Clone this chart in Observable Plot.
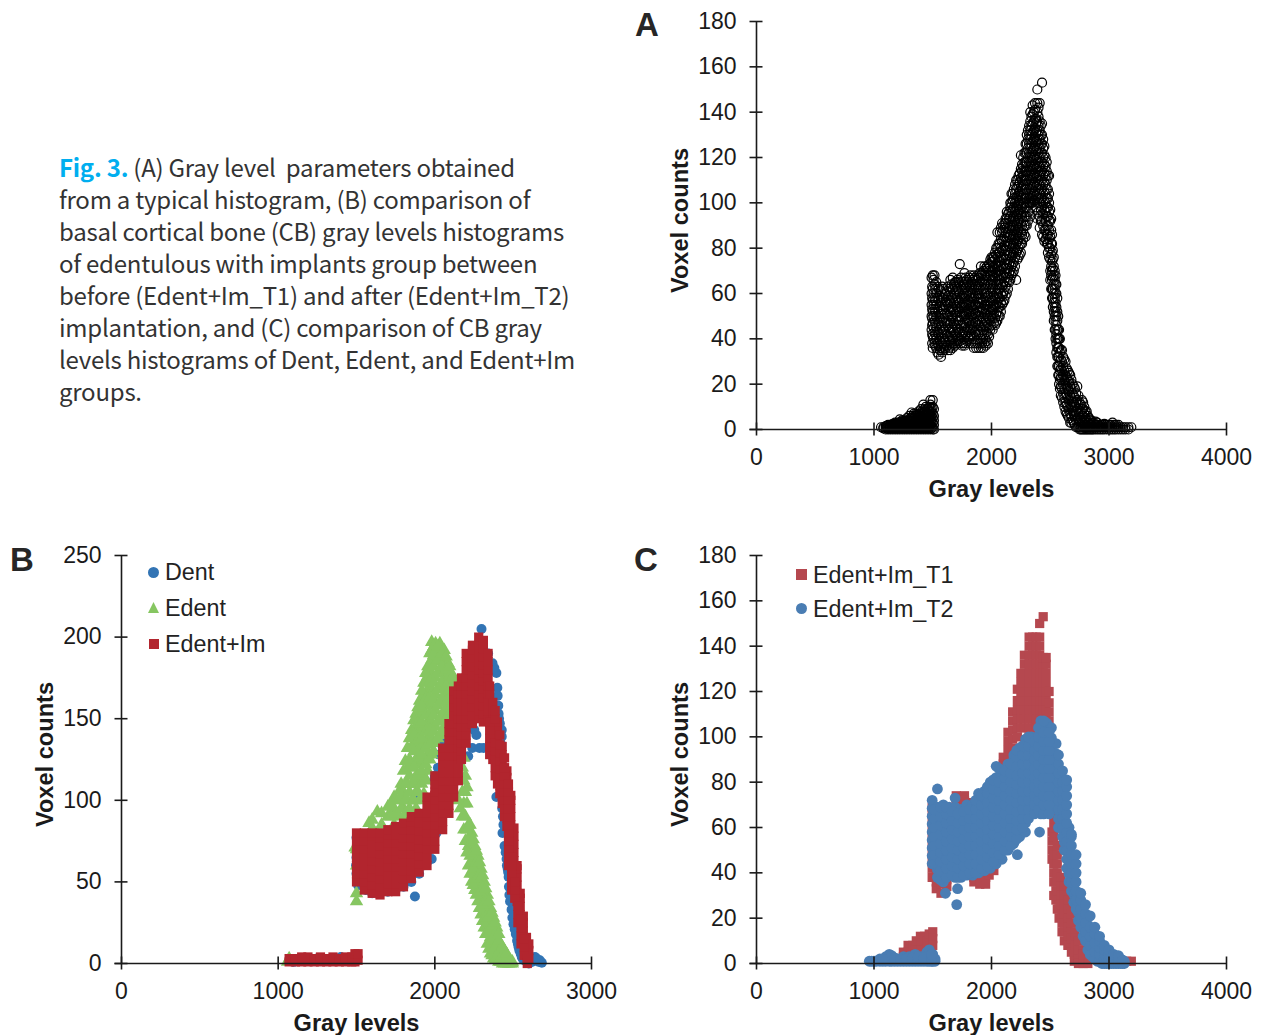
<!DOCTYPE html>
<html><head><meta charset="utf-8">
<script src="https://cdn.jsdelivr.net/npm/d3@7"></script>
<script src="https://cdn.jsdelivr.net/npm/@observablehq/plot@0.6"></script>
<style>
html,body{margin:0;padding:0;background:#fff}
#page{position:relative;width:1262px;height:1035px;overflow:hidden;font-family:"Liberation Sans",Arial,sans-serif;color:#1a1a1a}
#page svg{position:absolute;overflow:visible}
#caption{position:absolute;left:59px;top:151px;font:24px/32px "Noto Sans CJK KR","Noto Sans",sans-serif;color:#333;white-space:pre;letter-spacing:-.24px}
#caption b{color:#00aeef;font-weight:700}
.letter{position:absolute;font-weight:700;font-size:33px;line-height:33px;color:#262626}
.lg{position:absolute;font-size:23.3px;line-height:26px;white-space:pre;color:#222}
.mk{position:absolute;width:11px;height:11px}
</style></head><body><div id="page">
<div id="caption"><b>Fig. 3.</b> (A) Gray level  parameters obtained
from a typical histogram, (B) comparison of
basal cortical bone (CB) gray levels histograms
of edentulous with implants group between
before (Edent+Im_T1) and after (Edent+Im_T2)
implantation, and (C) comparison of CB gray
levels histograms of Dent, Edent, and Edent+Im
groups.</div>
<div class="letter" style="left:635px;top:8px">A</div>
<div class="letter" style="left:10px;top:543px">B</div>
<div class="letter" style="left:634px;top:543px">C</div>
<div class="mk" style="left:148px;top:567px;border-radius:50%;background:#3274b4"></div><div class="lg" style="left:165px;top:559px">Dent</div>
<div class="mk" style="left:148px;top:602px;background:#86c661;clip-path:polygon(50% 0,100% 100%,0 100%)"></div><div class="lg" style="left:165px;top:595px">Edent</div>
<div class="mk" style="left:149px;top:639px;width:10px;height:10px;background:#b2252e"></div><div class="lg" style="left:165px;top:631px">Edent+Im</div>
<div class="mk" style="left:796px;top:569px;background:#b5484f"></div><div class="lg" style="left:813px;top:562px">Edent+Im_T1</div>
<div class="mk" style="left:796px;top:603px;border-radius:50%;background:#4a7db3"></div><div class="lg" style="left:813px;top:596px">Edent+Im_T2</div>
</div>
<script>
const grayTicksAC=[0,1000,2000,3000,4000], grayTicksB=[0,1000,2000,3000];
const countTicksAC=[0,20,40,60,80,100,120,140,160,180], countTicksB=[0,50,100,150,200,250];
const xTitle="Gray levels", yTitle="Voxel counts";
const colors={dent:"#3274b4",edent:"#86c661",edentIm:"#b2252e",t1:"#b5484f",t2:"#4a7db3"};

// Each row: gray level, then the voxel counts read at that gray level
const typicalA=[
[1060,1],[1080,.5,1],[1100,0,1,1.5],[1120,0,1,2],[1140,0,1,2],[1160,0,1,2.5],[1180,0,1,2,3],[1200,0,1,2,3],[1220,0,1,3,4.5],[1240,0,1,2,3,4],[1260,0,1,2,3,4],[1280,0,1,3,5],[1300,0,1,2,4,6],[1320,0,2,3,5,7.5],[1340,0,1,3,5,7],[1360,0,2,4,6,7],[1380,0,1,3,5,8],[1400,0,2,4,6,9],[1420,0,1,3,5,7,11],[1440,0,2,4,6,8,10],[1460,0,1,3,5,7,9],[1480,0,2,4,6,8,11,13],[1500,0,1,3,5,7,10,13],[1510,0,2,4,6,9],
[1490,44,50,55,60,67],[1500,36,41,47,52,57,62,68],[1515,38,43,48,53,58,64,68],[1530,36,40,45,50,55,60,65],[1550,33,37,42,47,52,57,62],[1570,32,36,41,46,51,56,61],[1590,35,40,44,49,53,58,62],[1610,36,39,45,48,54,57,60],[1630,35,41,46,50,55,59,63],[1650,35,38,43,47,52,56,61,66],[1670,36,40,44,49,53,58,62,67],[1690,37,42,46,51,55,59,63,65],[1710,38,41,45,50,54,58,62,66],[1730,39,43,48,52,56,60,64,73],[1750,37,42,46,51,55,59,62,65],[1770,37,40,45,50,54,58,62,69],[1790,39,44,48,52,56,60,64,66],[1810,40,43,47,51,55,59,63,67],[1830,38,42,46,50,54,58,62,65],[1850,36,41,45,49,53,58,62,68],[1870,36,42,47,51,55,59,63,66],[1890,36,42,46,50,54,58,62,67],[1910,36,40,45,50,54,58,63,68,72],[1930,36,40,44,49,53,57,62,66,70],[1950,37,40,45,48,53,58,62,66,71],[1970,38,42,46,50,55,59,64,68,71],[1990,44,48,52,56,60,64,68,72,75],[2010,44,49,53,57,62,66,70,74,76],[2030,46,49,54,58,62,67,71,75,78],[2050,48,52,56,60,64,68,72,76,80,87],[2070,50,54,58,62,66,70,74,78,82,87],[2090,55,59,63,67,71,75,79,83,87,91],[2110,57,61,65,69,73,77,81,85,89,91],[2130,60,65,69,73,77,81,85,89,93,96],[2150,65,69,73,77,81,85,89,93,96],[2170,68,72,76,80,84,88,92,96,100,104],[2190,70,74,78,82,86,90,94,98,102,106],[2210,66,78,82,86,90,94,98,102,106,110],[2230,76,80,84,88,92,96,100,104,108,112],[2250,78,82,87,91,95,99,103,107,111,115,121],[2270,84,88,92,96,100,104,108,112,116,120],[2290,85,90,94,98,102,106,110,114,118,122,126],[2310,92,96,100,104,108,112,116,120,124,128,132],[2330,94,100,104,108,112,116,120,124,128,132,136,140],[2350,100,103,107,111,115,119,123,127,131,135,139,143],[2370,101,105,109,113,117,121,125,129,133,137,141,144],[2390,93,100,104,108,112,116,120,124,128,132,136,140,144,150],[2410,89,94,100,104,108,112,116,120,124,128,132,136,144],[2430,86,92,98,102,106,110,114,118,122,126,130,135,153],[2450,83,88,93,97,101,105,109,113,117,121,125],[2470,82,86,90,94,98,102,106,110,114,118],[2490,76,80,84,88,92,96,100,104,112],
[2500,66,70,75,80,85,92,97],[2515,58,62,66,70,74,78,82,86],[2530,48,52,56,60,64,68,72,76],[2545,40,44,48,52,56,60,64,68],[2560,28,32,36,40,44,48,52,58],[2575,20,24,28,32,36,40,44],[2590,15,19,23,27,31,35],[2610,12,16,20,24,28,32],[2630,8,12,16,20,24,30],[2650,6,10,14,18,22,26],[2670,3,7,11,15,19,24],[2690,4,8,12,16,20],[2710,2,6,10,14,18],[2730,1,5,9,13,19],[2750,0,4,8,12],[2770,0,3,6,9,13],[2790,0,2,4,7,10],[2810,0,2,4,8],[2830,0,1,3,5],[2850,0,2,4],[2870,0,1,3],[2900,0,1,3],[2930,0,1,2],[2960,0,1,2.5],[3000,0,1,2],[3030,0,1,3],[3060,0,1,2],[3100,0,1],[3140,0,1],[3190,1]];
const typicalAExtra=[
[1110,.5,1.5],[1130,.5,1.5],[1150,.5,1.5],[1170,.5,1.5,2],[1190,.5,1.5,2.5],[1210,.5,1.5,2.5],[1230,.5,1.5,2.5,3.5],[1250,.5,1.5,2.5,3.5],[1270,.5,1.5,2.5,3.5],[1290,.5,1.5,2.5,4],[1310,.5,1.5,2.5,3.5,5],[1330,.5,1.5,2.5,4,6],[1350,.5,1.5,2.5,4,6],[1370,.5,1.5,3,5,6.5],[1390,.5,1.5,3,4.5,6,7],[1410,.5,1.5,2.5,4,5,7,8],[1430,.5,1.5,3,4.5,6,8,9],[1450,.5,1.5,3,4.5,6,7.5,9],[1470,.5,1.5,3,4.5,6,8,10],[1490,.5,1.5,3,4.5,6,8,9.5],
[1495,38,42,46,49,53,58,63],[1507,40,45,50,55,60,66],[1522,37,42,47,52,57,62],[1540,34,38,43,48,53,58,63],[1560,35,39,44,49,54,59],[1580,34,38,43,48,53,58,63],[1600,37,42,47,51,55,60],[1620,37,42,47,51,56,61],[1640,36,39,44,48,53,57,62],[1660,37,41,45,50,54,59,64],[1680,38,43,47,52,56,60,64],[1700,39,43,48,52,57,61,65],[1720,40,44,48,53,57,61,65],[1740,38,41,46,50,54,58,63,67],[1760,38,43,47,52,56,60,64],[1780,38,42,47,51,55,59,63,67],[1800,41,45,49,53,57,61,65],[1820,41,44,48,52,56,60,64,68],[1840,40,44,47,51,55,60,64,66],[1860,38,43,47,51,55,60,64,67],[1880,38,44,48,52,56,60,64,68],[1900,38,43,48,52,56,60,65,69],[1920,38,42,47,52,56,60,65,69],[1940,38,42,46,51,55,60,64,68,72],[1960,39,43,47,51,55,60,64,68,72],[1980,41,45,49,53,57,62,66,70,73],[2000,46,50,54,58,62,66,70,74,76],[2020,47,51,55,59,64,68,72,76],[2040,47,51,55,60,64,69,73,77,80],[2060,50,54,58,62,66,70,74,78,82],[2080,52,56,60,64,68,72,76,80,84,89],[2100,56,60,64,68,72,76,80,84,88,90],[2120,59,63,67,71,75,79,83,87,91,93],[2140,62,67,71,75,79,83,87,91,95],[2160,66,70,74,78,82,86,90,94,98,100],[2180,69,73,77,81,85,89,93,97,101,104],[2200,72,76,80,84,88,92,96,100,104,108],[2220,75,79,83,87,91,95,99,103,107,110],[2240,77,81,85,89,93,97,101,105,109,113],[2260,82,86,90,94,98,102,106,110,114,117],[2280,86,90,94,98,102,106,110,114,118,122],[2300,90,94,98,102,106,110,114,118,122,126,130],[2320,96,100,102,106,110,114,118,122,126,130,134],[2340,100,102,106,110,114,118,122,126,130,134,138],[2360,101,104,108,112,116,120,124,128,132,136,140],[2380,98,103,107,111,115,119,123,127,131,135,137],[2400,96,102,106,110,114,118,122,126,130,134,138,142],[2420,92,97,102,106,110,114,118,122,126,130,134],[2440,85,90,95,100,104,108,112,116,120,124,128],[2460,84,88,92,96,100,104,108,112,116,120],[2480,78,82,86,90,94,98,102,106,112],
[2508,62,68,72,77,82,88,93],[2522,54,58,62,67,71,75,79],[2538,44,50,54,58,62,66,70],[2552,34,38,42,46,50,54,60,64],[2568,24,28,32,36,40,44,50],[2582,18,22,26,30,34,40],[2600,14,18,22,26,30,35],[2620,10,14,18,22,26,31],[2640,7,11,15,19,23,27],[2660,5,9,13,17,21,25],[2680,3,6,10,14,18,22],[2700,3,7,11,15,19],[2720,1,4,8,12,16],[2740,1,3,7,11,15],[2760,0,2,5,8,11],[2780,0,1,3,6,9,12],[2800,0,1,3,5,8],[2820,0,1,3,6],[2840,0,1,2,4],[2860,0,1,3],[2885,0,1,2,3.5],[2915,0,1,2],[2945,0,1,2],[2980,0,1,2],[3015,0,1,2],[3045,0,1,2],[3080,0,1,2],[3120,0,1],[3165,0,1]];

const dentB=[[1100,1],[1180,3],[1250,3],[1350,3],[1400,4],[1450,2],[1500,3,55,65,77],[1560,45,60],[1700,44,70],[1800,47,75],[1873,41],[1900,55],[1903,102],[1950,62],[1980,64],[1994,112],[2000,90],[2020,120],[2045,134],[2058,138],[2123,103],[2200,149],[2213,127],[2239,132],[2252,143],[2265,140],[2285,132],[2298,205],[2311,132],[2330,188],[2368,184],[2393,178,102],[2399,169],[2401,164],[2407,153],[2427,143,139],[2432,80],[2445,72],[2458,64],[2465,58],[2471,53],[2473,47],[2476,42],[2490,33],[2502,24],[2510,21],[2517,18],[2525,14],[2535,10],[2548,6],[2561,3],[2600,0],[2639,4],[2664,1],[2683,.5],
[1497,60,70],[1510,48,52],[1600,43],[1650,43],[1750,45],[1850,50],[1925,60],[1970,70],[2010,80],[2030,128,100],[2000,115],[2060,130],[2080,115],[2100,105],[2350,180],[2340,190],[2380,181],[2410,150],[2415,147],[2405,158],[2420,135],[2430,95],[2435,90],[2438,85],[2452,68],[2460,60],[2468,56],[2480,38],[2495,28],[2530,12],[2540,8],[2555,4],[2570,2],[2590,1],[2620,1],[2650,3],[2670,2]];

const edentB=[[1060,1],[1070,3],[1491,71],[1500,38,43,60,70],[1580,60,75,86],[1633,65,80,93],[1700,60,78,90,96],[1740,75,85,95,102],[1775,80,90,100,106],[1800,85,95,105,118],[1825,90,100,110,120,132],[1852,90,100,110,122,133,143],[1880,95,105,115,125,135,145,153],[1903,100,112,122,132,142,152,161],[1930,104,115,125,135,145,155,165,172],[1955,118,128,138,148,158,168,176,182],[1980,128,138,148,158,168,178,186,192,197],[2005,135,145,155,165,175,185,192,196],[2032,140,150,160,170,180,188,196],[2060,145,155,165,175,185,192],[2084,150,160,170,178,184],[2105,155,165,172,178],[2123,160,167,173],[2150,100,125],[2175,90,105,120,135],[2195,75,90,105,115],[2215,60,72,85],[2235,50,62,72,80],[2255,45,55,65,72],[2275,38,48,58,66],[2295,30,40,50,58],[2315,22,32,42,50],[2335,12,22,32,42],[2355,6,16,26,34],[2375,3,12,20,28],[2395,2,9,16,22],[2420,1,6,12],[2445,0,4,8],[2470,0,3],[2495,0,1]];
const edentBExtra=[[1540,78],[1600,83,88],[1660,85,92],[1720,90,97],[1755,92,100],[1785,95,103,110],[1812,92,100,110,124],[1838,95,105,115,125,138],[1866,100,110,120,130,140,149],[1892,105,115,127,137,147,157],[1916,110,118,128,138,148,158,167],[1942,112,122,132,142,152,162,172,178],[1968,125,134,143,153,163,173,183,190],[1992,130,142,152,162,172,182,189,194],[2018,138,148,158,168,178,186,194],[2045,142,152,162,172,182,190],[2072,150,160,170,180,188],[2095,158,168,176,182],[2114,160,170,176],[2135,150,162],[2162,95,112,128],[2185,82,98,112,126],[2205,68,82,98,108],[2225,55,66,78,85],[2245,48,58,68,76],[2265,42,52,62,69],[2285,34,44,54,62],[2305,26,36,46,54],[2325,18,28,38,46],[2345,9,19,29,38],[2365,5,14,23,31],[2385,2,10,18,25],[2408,1,7,14,18],[2432,0,5,10],[2458,0,3,6],[2482,0,2]];

const edentImB=[[1070,1,3],[1110,1,3],[1150,1,4],[1190,1,4],[1230,1,3],[1270,1,4],[1310,1,3],[1350,1,4],[1390,1,3],[1430,1,4],[1470,1,4],[1490,1,4,6],[1510,2,6],
[1500,50,55,60,65,70,75,80],[1550,45,50,55,60,65,70,75,80],[1600,43,48,53,58,63,68,73,78,80],[1650,42,47,52,57,62,67,72,77,80],[1700,44,49,54,59,64,69,74,79,82],[1750,44,49,54,59,64,69,74,79,84],[1800,47,52,57,62,67,72,77,82,86],[1850,52,57,62,67,72,77,82,87,90],[1900,56,61,66,71,76,81,86,91,92],[1950,60,65,70,75,80,85,90,92,97,102],[2000,70,75,80,85,90,95,100,103,105,110,115],[2050,82,87,92,97,102,107,112,117,122,127,132],[2090,92,97,102,107,112,117,122,127,132,137,142,147],[2120,102,107,112,117,122,127,132,137,142,147,152,157,162,167],[2150,112,117,122,127,132,137,142,147,150,155,160,165,170],[2170,125,130,135,140,145,150,155,160,165,170,175],[2200,135,140,145,150,155,160,165,170,175,180,185,190],[2240,147,152,157,162,167,172,177,182,187,192,195],[2280,150,155,160,165,170,175,180,185,190,195,200],[2310,148,153,158,163,168,173,178,183,188,193,198],[2340,150,155,160,165,170,175,180,185,190],[2370,125,130,135,140,145,150,155,160],[2400,110,115,120,125,130,135,140,145,148],[2430,98,103,108,113,118,123,128,133],[2460,84,89,94,99,104,109,114,118],[2485,70,75,80,85,90,95,100,103],[2505,53,58,63,68,73,78,83],[2525,38,43,48,53,58,60],[2545,30,35,40,43],[2565,20,25,29],[2585,5,10,16],[2600,3,8,12],
[2350,128,133,138,143,148,165,170],[2385,115,120,125,130,135,150,155],[2415,104,109,114,119,124,129,134,140],[2445,90,95,100,105,110,115,120,126],[2470,60,65,70,75,80,85,90,95,100,105,110],[2490,45,50,55,60,65],[2510,40,45,50],[2530,25,30,35],[2550,12,17,22,27],[2570,5,10,15],[2590,0,3]];

const t1C=[[1150,2],[1250,5,3],[1290,8,5],[1330,8],[1350,7,4],[1360,10],[1395,12],[1400,9,6],[1430,12],[1450,10,7],[1470,13],[1500,14,11,8],
[1495,38,42,46,50,54,58,62,66,69],[1530,33,36,40,68],[1570,31,35],[1620,34,37,40],[1700,72,74,70],[1740,73],[1770,74,70,72],[1800,71],[1850,36,38],[1900,35,38],[1950,35,38,41],[1980,39,42],[2020,41,44,47],[2060,46,49,52],[2100,50,53,84,88,91],[2140,90,94,98,102],[2180,95,99,103,107,111],[2220,100,104,108,112,116,121],[2250,104,108,112,116,120,124,128],[2280,104,108,112,116,120,124,128,132,136],[2320,100,104,108,112,116,120,124,128,132,136,140,144],[2350,100,104,108,112,116,120,124,128,132,136,140,144],[2380,100,104,108,112,116,120,124,128,132,136,140,144],[2410,100,104,108,112,116,120,124,128,132,136,140,144,150],[2440,100,104,108,112,116,120,124,128,132,135,153],[2465,100,104,108,112,116,120,124,128,132,135],[2490,95,99,103,107,111,115,120],
[2515,58,54,50,46],[2530,48,44,40,36],[2548,36,32,28],[2575,28,24,20],[2600,22,18,14],[2620,18,14,10],[2650,12,8],[2680,8,5],[2705,4,1],[2740,2,0],[2780,1,0],[2820,0],[3150,1],[3190,1],
[2530,56,60,64,30],[2560,52,48,44,40,36,32,24],[2590,38,34,30,26],[2620,34,30,26,22],[2650,28,24,20,16],[2680,22,18,14,11],[2710,14,11,8],[2740,10,6],[2780,6,4],[2830,2]];

const t2C=[[960,1],[1000,1],[1050,1,2],[1100,1,3],[1130,1,4],[1150,1,3.5],[1200,1,2],[1250,1,3],[1300,1,3],[1350,1,4],[1400,1,3],[1450,1,3,5],[1470,1,3,6],[1500,1,3,4],[1520,1,2],
[980,1],[1020,1],[1075,1,2],[1175,1,2.5],[1225,1,2],[1275,1,2],[1325,1,2.5],[1375,1,3],[1425,1,2.5],[1490,1,2,4],
[1495,44,47.5,51,54.5,58,61.5,65,68.5,72],[1540,38,41.5,45,48.5,52,55.5,59,62.5,66,69,77],[1590,36,39.5,43,46.5,50,53.5,57,60.5,64,67,70],[1608,31],[1640,39,42.5,46,49.5,53,56.5,60,63.5,67,69],[1690,38,41.5,45,48.5,52,55.5,59,62.5,66,69,73],[1704,26],[1711,33],[1740,38,41.5,45,48.5,52,55.5,59,62.5,66,68],[1790,39,42.5,46,49.5,53,56.5,60,63.5,67,70],[1840,39,42.5,46,49.5,53,56.5,60,63.5,67,70],[1890,40,43.5,47,50.5,54,57.5,61,64.5,68,71.5,75],[1940,41,44.5,48,51.5,55,58.5,62,65.5,69,72.5,76],[1990,42,45.5,49,52.5,56,59.5,63,66.5,70,73.5,77,80],[2040,44,47.5,51,54.5,58,61.5,65,68.5,72,75.5,79,82,87],[2090,46,49.5,53,56.5,60,63.5,67,70.5,74,77.5,81,83],[2140,50,53.5,57,60.5,64,67.5,71,74.5,78,81.5,84,88],[2190,53,56.5,60,63.5,67,70.5,74,77.5,81,84.5,88,90,92],[2220,48],[2240,56,59.5,63,66.5,70,73.5,77,80.5,84,87.5,91,92,95],[2289,58],[2290,62,65.5,69,72.5,76,79.5,83,86.5,90,93.5,97,99],[2340,66,69.5,73,76.5,80,83.5,87,90.5,94,97.5,100],[2390,67,70.5,74,77.5,81,84.5,88,91.5,95,98,100],[2409,58],[2420,66,69.5,73,76.5,80,83.5,87,90.5,94,97.5,101,104,107],[2470,68,71.5,75,78.5,82,85.5,89,92.5,96,99.5,103,106],[2510,68,71.5,75,78.5,82,85.5,89,92.5,96,99.5,104],[2550,68,71.5,75,78.5,82,85.5,89,92.5,97],[2590,60,63.5,67,70.5,74,77.5,81,84],[2620,50,53.5,57,60.5,64,67.5,71,74.5,78,81],[2660,36,39.5,43,46.5,50,53.5,57,60],[2700,27,30.5,34,37.5,41,45],[2740,19,22.5,26,30],[2780,12,15.5,19,22,25],[2820,6,9.5,13,17],[2860,3,6.5,10,13],[2900,1,4,7,10],[2940,0,3,5.5,8],[2980,0,2.5,4.5,6],[3020,0,2,4],[3060,0,1.5,3],[3100,0,1,2],[3130,0,1],
[2570,60,64,68,72,76,80,84,88,92],[2605,56,60,64,68,72,76,80,85],[2640,42,46,50,54,58,62,66,70,74,78,81],[2680,32,36,40,44,48,52,56,57],[2720,24,28,32,36,40,44,48],[2760,16,20,24,28,31],[2800,10,14,18,22,26],[2840,4,8,12,16,21],[2880,2,5,9,13,16],[2920,1,4,7,10,12],[2960,0,2,4,6,8],[3000,0,2,4,6],[3040,0,2,4],[3080,0,1.5,3.5],[3115,0,1.5],
[1515,44,48,52,56,60,64,68],[1565,37,41,45,49,53,57,61,65,69],[1615,38,42,46,50,54,58,62,66,69],[1665,39,43,47,51,55,59,63,67],[1715,38,42,46,50,54,58,62,66],[1765,39,43,47,51,55,59,63,67],[1815,40,44,48,52,56,60,64,68],[1865,40,44,48,52,56,60,64,68,72],[1915,42,46,50,54,58,62,66,70,74],[1965,43,47,51,55,59,63,67,71,75,78],[2015,45,49,53,57,61,65,69,73,77,81],[2065,48,52,56,60,64,68,72,76,80,86],[2115,50,54,58,62,66,70,74,78,82,85],[2165,52,56,60,64,68,72,76,80,84,88],[2215,55,59,63,67,71,75,79,83,87,91,94],[2265,60,64,68,72,76,80,84,88,92,96],[2315,64,68,72,76,80,84,88,92,96,100],[2365,66,70,74,78,82,86,90,94,98],[2400,68,72,76,80,84,88,92,96,100,104],[2445,66,70,74,78,82,86,90,94,98,102,107],[2490,66,70,74,78,82,86,90,94,98,102]];

const points=rows=>rows.flatMap(([x,...ys])=>ys.map(y=>({x,y})));
const page=document.getElementById("page");

function panel({left,top,xMax,yMax,xTicks,yTicks,layers}){
  const W=632,H=505,x0=left<100?121:126,plotW=470,plotH=408,mt=21;
  const armY=6.5*yMax/plotH, armX=6.5*xMax/plotW;
  const svg=Plot.plot({
    width:W,height:H,marginLeft:x0,marginRight:W-x0-plotW,marginTop:mt,marginBottom:H-mt-plotH,
    x:{domain:[0,xMax],axis:null},y:{domain:[0,yMax],axis:null},
    style:{fontFamily:"'Liberation Sans',Arial,sans-serif",color:"#1a1a1a",background:"transparent"},
    marks:[
      ...layers.map(l=>Plot.dot(points(l.rows),{x:"x",y:"y",r:l.r,symbol:l.symbol,
        fill:l.hollow?"none":l.color,stroke:l.hollow?l.color:"none",strokeWidth:1.2,clip:false})),
      Plot.ruleY([0],{x1:-armX,x2:xMax,stroke:"#1a1a1a",strokeWidth:1.6}),
      Plot.ruleX([0],{y1:0,y2:yMax,stroke:"#1a1a1a",strokeWidth:1.6}),
      Plot.ruleX(xTicks,{x:d=>d,y1:-armY,y2:armY,stroke:"#1a1a1a",strokeWidth:1.6}),
      Plot.ruleY(yTicks,{y:d=>d,x1:-armX,x2:armX,stroke:"#1a1a1a",strokeWidth:1.6}),
      Plot.text(xTicks,{x:d=>d,y:0,text:d=>String(d),dy:28,fontSize:23,fill:"#1a1a1a"}),
      Plot.text(yTicks,{x:0,y:d=>d,text:d=>String(d),textAnchor:"end",dx:-20,fontSize:23,fill:"#1a1a1a"}),
      Plot.text([xTitle],{x:xMax/2,y:0,dy:60,fontSize:23.6,fontWeight:"bold",fill:"#1a1a1a"}),
      Plot.text([yTitle],{x:0,y:yMax/2,dx:-76,dy:-5,rotate:-90,fontSize:23.6,fontWeight:"bold",fill:"#1a1a1a"})
    ]
  });
  svg.style.left=left+"px";svg.style.top=top+"px";
  page.appendChild(svg);
}
panel({left:630,top:0,xMax:4000,yMax:180,xTicks:grayTicksAC,yTicks:countTicksAC,
  layers:[{rows:[...typicalA,...typicalAExtra],symbol:"circle",r:4.5,color:"#000",hollow:true}]});
panel({left:0,top:534,xMax:3000,yMax:250,xTicks:grayTicksB,yTicks:countTicksB,
  layers:[{rows:dentB,symbol:"circle",r:5,color:colors.dent},{rows:[...edentB,...edentBExtra],symbol:"triangle",r:5,color:colors.edent},{rows:edentImB,symbol:"square",r:5.2,color:colors.edentIm}]});
panel({left:630,top:534,xMax:4000,yMax:180,xTicks:grayTicksAC,yTicks:countTicksAC,
  layers:[{rows:t1C,symbol:"square",r:5.2,color:colors.t1},{rows:t2C,symbol:"circle",r:5.4,color:colors.t2}]});
</script></body></html>
